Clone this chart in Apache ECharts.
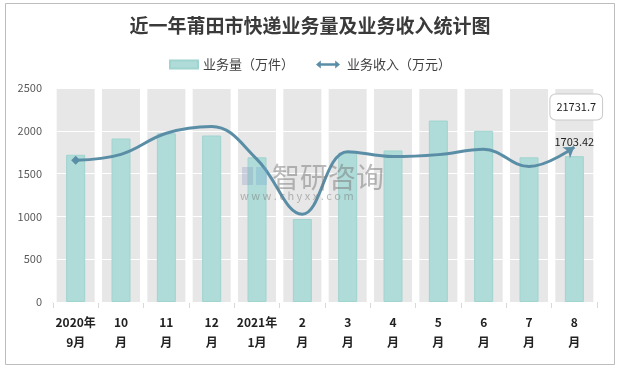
<!DOCTYPE html>
<html><head><meta charset="utf-8">
<script src="https://cdn.jsdelivr.net/npm/echarts@6/dist/echarts.min.js"></script>
<style>html,body{margin:0;padding:0;background:#fff}#c{width:620px;height:369px}</style>
</head><body><div id="c"></div>
<script>
var categories = ['2020年\n9月','10\n月','11\n月','12\n月','2021年\n1月','2\n月','3\n月','4\n月','5\n月','6\n月','7\n月','8\n月'];
var volume = [1720, 1910, 1970, 1945, 1690, 970, 1745, 1770, 2120, 2000, 1690, 1703.42];
var revenue = [19860, 20700, 23650, 24590, 20000, 12300, 21080, 20380, 20660, 21400, 18980, 21731.7];
var background = [2500,2500,2500,2500,2500,2500,2500,2500,2500,2500,2500,2500];
var yTicks = {min: 0, max: 2500, interval: 500};
var y2Range = {min: 0, max: 30000};

var FONT = '"Noto Sans CJK SC", "Noto Sans", sans-serif';
var last = volume.length - 1;
var chart = echarts.init(document.getElementById('c'));

var lineData = revenue.map(function (v, i) {
  var d = {value: v, symbol: 'none'};
  if (i === 0) { d.symbol = 'diamond'; d.symbolSize = [9, 9]; }
  if (i === last) {
    d.symbol = 'arrow'; d.symbolSize = [10, 10]; d.symbolRotate = -55;
    d.label = {show: true, position: 'top', distance: 22, offset: [6, 0],
      formatter: function (p) { return String(revenue[p.dataIndex]); },
      backgroundColor: '#fff', borderColor: '#c8c8c8', borderWidth: 1, borderRadius: 5,
      padding: [7, 6, 7, 6], color: '#222', fontSize: 11, fontFamily: FONT};
  }
  return d;
});
var barData = volume.map(function (v, i) {
  var d = {value: v};
  if (i === last) {
    d.label = {show: true, position: 'top', distance: 9, color: '#222', fontSize: 11, fontFamily: FONT,
      formatter: function (p) { return String(volume[p.dataIndex]); }};
  }
  return d;
});

chart.setOption({
  backgroundColor: '#fff',
  animation: false,
  title: {text: '近一年莆田市快递业务量及业务收入统计图', left: 'center', top: 11,
    textStyle: {fontFamily: FONT, fontSize: 19, fontWeight: 'bold', color: '#3a3a3a'}},
  legend: {top: 53, left: 'center', itemGap: 22, itemWidth: 28, itemHeight: 8,
    textStyle: {fontFamily: FONT, fontSize: 13, color: '#404040'},
    data: [
      {name: '业务量（万件）', icon: 'rect'},
      {name: '业务收入（万元）', icon: 'path://M0,5 L6,0 L6,3.5 L24,3.5 L24,0 L30,5 L24,10 L24,6.5 L6,6.5 L6,10 Z'}
    ]},
  grid: {left: 53, right: 23, top: 88, bottom: 67},
  xAxis: [
    {type: 'category', data: categories, axisLine: {lineStyle: {color: '#d9d9d9'}},
      axisTick: {show: true, length: 6, lineStyle: {color: '#d9d9d9'}},
      axisLabel: {interval: 0, fontFamily: FONT, fontSize: 12, fontWeight: 'bold', color: '#222', lineHeight: 20, margin: 10}},
    {type: 'category', data: categories, show: false}
  ],
  yAxis: [
    {type: 'value', min: yTicks.min, max: yTicks.max, interval: yTicks.interval, z: 1.5,
      axisLine: {show: false}, axisTick: {show: false},
      axisLabel: {fontFamily: FONT, fontSize: 11, color: '#595959', margin: 11,
        formatter: function (v) { return String(v); }},
      splitLine: {lineStyle: {color: '#ffffff', width: 1}}},
    {type: 'value', min: y2Range.min, max: y2Range.max, show: false, splitLine: {show: false}}
  ],
  graphic: [
    {type: 'rect', shape: {x: 5.5, y: 3.5, width: 609, height: 361}, style: {fill: 'none', stroke: '#bdbdbd', lineWidth: 1}, z: 100},
    {type: 'text', left: 272, top: 163, style: {text: '智研咨询', font: '28px ' + FONT, fill: 'rgba(120,120,120,0.5)'}, z: 50},
    {type: 'text', left: 240, top: 190, style: {text: 'w w w . c h y x x . c o m', font: '11px ' + FONT, fill: 'rgba(120,120,120,0.5)'}, z: 50},
    {type: 'rect', shape: {x: 242, y: 167, width: 11, height: 18}, style: {fill: 'rgba(130,150,190,0.3)'}, z: 50},
    {type: 'rect', shape: {x: 256, y: 167, width: 11, height: 18}, style: {fill: 'rgba(110,170,210,0.3)'}, z: 50}
  ],
  series: [
    {type: 'bar', name: 'bg', xAxisIndex: 1, yAxisIndex: 0, data: background, barWidth: 38,
      itemStyle: {color: '#e7e7e7'}, z: 1, silent: true},
    {type: 'bar', name: '业务量（万件）', xAxisIndex: 0, yAxisIndex: 0, data: barData, barWidth: 19,
      itemStyle: {color: '#afdcd8', borderColor: '#9fd4cf', borderWidth: 1}, z: 2},
    {type: 'line', name: '业务收入（万元）', xAxisIndex: 0, yAxisIndex: 1, data: lineData, smooth: 0.4,
      lineStyle: {color: '#5a8ea6', width: 3}, itemStyle: {color: '#5a8ea6'}, z: 3}
  ]
});
</script></body></html>
